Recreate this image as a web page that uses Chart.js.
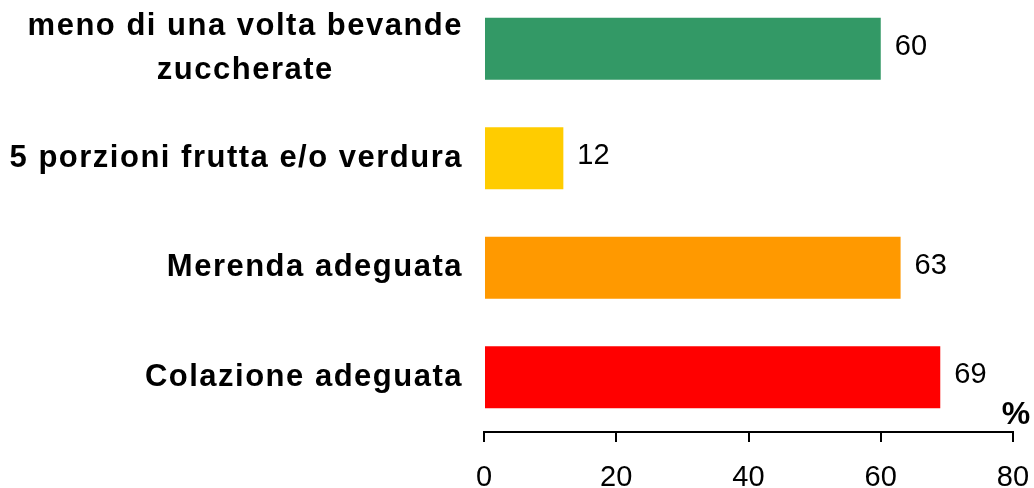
<!DOCTYPE html>
<html>
<head>
<meta charset="utf-8">
<script src="https://cdn.jsdelivr.net/npm/chart.js@4/dist/chart.umd.min.js"></script>
<style>
  html, body { margin: 0; padding: 0; background: #fff; overflow: hidden; }
  #wrap { position: relative; width: 1034px; height: 488px; overflow: hidden; }
  /* canvas is a bit taller than the window so the first band can start above the top edge */
  #myChart { position: absolute; left: 0; top: -18px; }
</style>
</head>
<body>
<div id="wrap"><canvas id="myChart" width="1034" height="508"></canvas></div>
<script>
'use strict';

// categories, top to bottom
const categories = [
    ['meno di una volta bevande', 'zuccherate'],
    '5 porzioni frutta e/o verdura',
    'Merenda adeguata',
    'Colazione adeguata'
];
// percentages shown next to each bar
const values = [60, 12, 63, 69];
const barColors = ['#339966', '#ffcc00', '#ff9900', '#ff0000'];
const xTicks = [0, 20, 40, 60, 80];
const unitLabel = '%';

const FONT = '"Liberation Sans", Arial, sans-serif';

// category names are drawn here (the originals are slightly letter-spaced),
// plus the value next to each bar and the % sign over the end of the axis
const extraText = {
    id: 'extraText',
    afterDatasetsDraw(chart) {
        const ctx = chart.ctx;
        const meta = chart.getDatasetMeta(0);
        const ys = chart.scales.y;
        const xs = chart.scales.x;
        ctx.save();
        ctx.fillStyle = '#000';

        // category labels: block is right aligned, lines centred inside it
        ctx.font = 'bold 31px ' + FONT;
        ctx.letterSpacing = '1.5px';
        ctx.textAlign = 'center';
        ctx.textBaseline = 'middle';
        const right = chart.chartArea.left - 21;
        categories.forEach((label, i) => {
            const lines = Array.isArray(label) ? label : [label];
            const widest = Math.max(...lines.map(l => ctx.measureText(l).width));
            const xc = right - widest / 2;
            const yc = ys.getPixelForValue(i);
            const lineH = 44;
            lines.forEach((line, j) => {
                const y = yc + (j - (lines.length - 1) / 2) * lineH;
                ctx.fillText(line, xc, y);
            });
        });

        // value labels
        ctx.letterSpacing = '0px';
        ctx.font = '29px ' + FONT;
        ctx.textAlign = 'left';
        meta.data.forEach((bar, i) => {
            ctx.fillText(String(values[i]), bar.x + 14, bar.y - 2);
        });

        // unit sign
        ctx.font = 'bold 32px ' + FONT;
        ctx.textAlign = 'center';
        ctx.textBaseline = 'alphabetic';
        ctx.fillText(unitLabel, xs.getPixelForValue(xTicks[xTicks.length - 1]) + 3, chart.chartArea.bottom - 8);
        ctx.restore();
    }
};

function createChart() {
    const ctx = document.getElementById('myChart').getContext('2d');
    new Chart(ctx, {
        type: 'bar',
        data: {
            labels: categories,
            datasets: [{
                data: values,
                backgroundColor: barColors,
                borderWidth: 0,
                categoryPercentage: 1,
                barPercentage: 0.566
            }]
        },
        options: {
            indexAxis: 'y',
            responsive: false,
            animation: false,
            layout: { padding: { top: 12, right: 21, left: 0, bottom: 0 } },
            plugins: {
                legend: { display: false },
                tooltip: { enabled: false }
            },
            scales: {
                x: {
                    min: 0,
                    max: 80,
                    afterBuildTicks(scale) {
                        scale.ticks = xTicks.map(v => ({ value: v }));
                    },
                    afterFit(scale) {
                        scale.height = 58;
                        scale.paddingLeft = 0;
                        scale.paddingRight = 0;
                    },
                    grid: {
                        drawOnChartArea: false,
                        drawTicks: true,
                        tickLength: 10,
                        color: '#000',
                        lineWidth: 2
                    },
                    border: { display: true, color: '#000', width: 2 },
                    ticks: {
                        color: '#000',
                        font: { family: FONT, size: 29 },
                        padding: 19,
                        maxRotation: 0
                    }
                },
                y: {
                    afterFit(scale) {
                        scale.width = 484;
                        scale.paddingTop = 0;
                        scale.paddingBottom = 0;
                    },
                    grid: { display: false },
                    border: { display: false },
                    ticks: { display: false }
                }
            }
        },
        plugins: [extraText]
    });
}

window.onload = createChart;
</script>
</body>
</html>
